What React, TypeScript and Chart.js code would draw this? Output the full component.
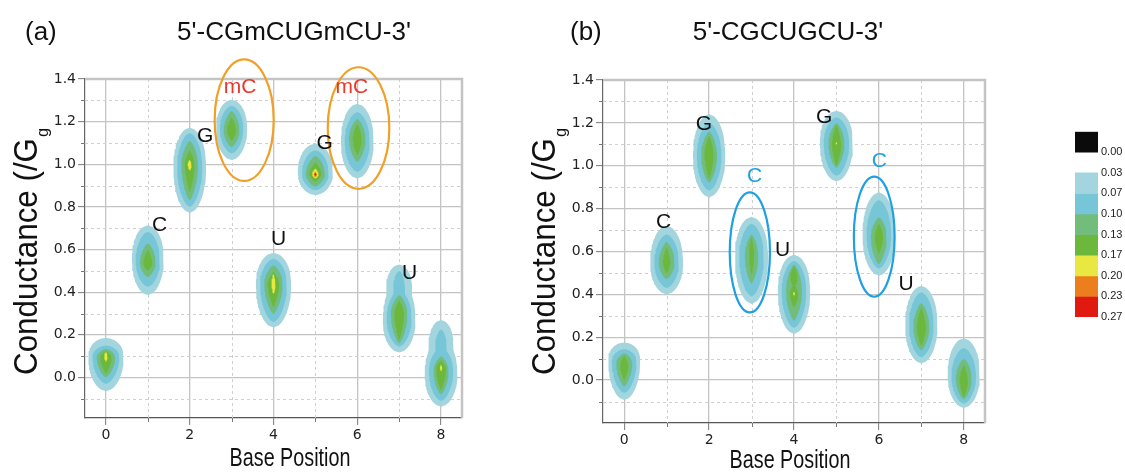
import React, { useEffect, useRef } from 'react';
import { Chart, registerables } from 'chart.js';

Chart.register(...registerables);

const FONT = '"Liberation Sans", Arial, Helvetica, sans-serif';
const TICK_FONT = '"DejaVu Sans", Verdana, sans-serif';

// ---- axes ----
const xTicks = [0, 2, 4, 6, 8];
const xMinorTicks = [1, 3, 5, 7];
const yTicks = [0, 0.2, 0.4, 0.6, 0.8, 1.0, 1.2, 1.4];
const yMinorTicks = [-0.1, 0.1, 0.3, 0.5, 0.7, 0.9, 1.1, 1.3];

// ---- colour scale ----
const levelBounds = [0, 0.0333, 0.0667, 0.1, 0.1333, 0.1667, 0.2, 0.2333, 0.2667];
const levelLabels = ['0.00', '0.03', '0.07', '0.10', '0.13', '0.17', '0.20', '0.23', '0.27'];
const levelColors = ['#a2d5de', '#76c6d7', '#72bd7c', '#6cb83c', '#e9e842', '#ec7e1e', '#e01a10'];
const zeroColor = '#0b0b0b';

// ---- density contours: [base position, level, low, high, half-width, widest-at] ----
const contoursA: number[][] = [
  [0, 1, -0.065, 0.186, 0.42, 0.1], [0, 2, -0.03, 0.15, 0.32, 0.1], [0, 3, 0.0, 0.135, 0.22, 0.095],
  [0, 4, 0.02, 0.125, 0.14, 0.095], [0, 5, 0.075, 0.12, 0.045, 0.1],
  [1, 1, 0.386, 0.714, 0.38, 0.56], [1, 2, 0.425, 0.684, 0.29, 0.55], [1, 3, 0.47, 0.63, 0.19, 0.54],
  [1, 4, 0.5, 0.6, 0.11, 0.535],
  [2, 1, 0.772, 1.172, 0.39, 0.99], [2, 2, 0.8, 1.147, 0.3, 0.99], [2, 3, 0.83, 1.11, 0.2, 1.0],
  [2, 4, 0.87, 1.066, 0.12, 1.0], [2, 5, 0.97, 1.02, 0.05, 1.0],
  [3, 1, 1.02, 1.303, 0.37, 1.17], [3, 2, 1.05, 1.275, 0.28, 1.17], [3, 3, 1.08, 1.25, 0.19, 1.16],
  [3, 4, 1.11, 1.22, 0.11, 1.16],
  [4, 1, 0.234, 0.585, 0.42, 0.44], [4, 2, 0.26, 0.557, 0.32, 0.44], [4, 3, 0.297, 0.527, 0.22, 0.44],
  [4, 4, 0.331, 0.495, 0.14, 0.44], [4, 5, 0.39, 0.487, 0.05, 0.44],
  [5, 1, 0.855, 1.097, 0.42, 0.964], [5, 2, 0.878, 1.066, 0.32, 0.96], [5, 3, 0.895, 1.04, 0.23, 0.955],
  [5, 4, 0.917, 1.01, 0.15, 0.955], [5, 5, 0.933, 0.98, 0.08, 0.953], [5, 6, 0.94, 0.965, 0.04, 0.953],
  [5, 7, 0.946, 0.959, 0.02, 0.952],
  [6, 1, 0.933, 1.284, 0.39, 1.11], [6, 2, 0.964, 1.245, 0.3, 1.11], [6, 3, 1.011, 1.214, 0.2, 1.12],
  [6, 4, 1.042, 1.19, 0.11, 1.12],
  [7, 1, 0.117, 0.45, 0.39, 0.27], [7, 1, 0.28, 0.53, 0.31, 0.42], [7, 2, 0.144, 0.41, 0.3, 0.28],
  [7, 2, 0.3, 0.5, 0.14, 0.42], [7, 3, 0.16, 0.386, 0.2, 0.3], [7, 4, 0.175, 0.362, 0.12, 0.3],
  [8, 1, -0.137, 0.18, 0.39, 0.02], [8, 1, 0.0, 0.27, 0.3, 0.15], [8, 2, -0.11, 0.14, 0.29, 0.03],
  [8, 2, 0.05, 0.225, 0.14, 0.14], [8, 3, -0.08, 0.1, 0.18, 0.03], [8, 4, -0.06, 0.08, 0.12, 0.04],
  [8, 5, 0.03, 0.06, 0.03, 0.045],
];

const contoursB: number[][] = [
  [0, 1, -0.093, 0.176, 0.375, 0.098], [0, 2, -0.06, 0.145, 0.29, 0.09], [0, 3, -0.03, 0.125, 0.19, 0.08],
  [0, 4, 0.0, 0.113, 0.1, 0.07],
  [1, 1, 0.4, 0.72, 0.387, 0.55], [1, 2, 0.43, 0.68, 0.29, 0.55], [1, 3, 0.47, 0.645, 0.19, 0.55],
  [1, 4, 0.5, 0.62, 0.09, 0.55],
  [2, 1, 0.852, 1.241, 0.38, 1.05], [2, 2, 0.883, 1.2, 0.29, 1.05], [2, 3, 0.92, 1.16, 0.19, 1.05],
  [2, 4, 0.94, 1.14, 0.11, 1.054],
  [3, 1, 0.355, 0.762, 0.39, 0.58], [3, 2, 0.39, 0.73, 0.29, 0.58], [3, 3, 0.45, 0.68, 0.16, 0.58],
  [3, 4, 0.487, 0.665, 0.06, 0.6],
  [4, 1, 0.215, 0.585, 0.38, 0.42], [4, 2, 0.243, 0.557, 0.29, 0.42], [4, 3, 0.276, 0.54, 0.19, 0.42],
  [4, 4, 0.43, 0.533, 0.09, 0.48], [4, 4, 0.34, 0.45, 0.1, 0.4], [4, 5, 0.395, 0.412, 0.025, 0.404],
  [5, 1, 0.927, 1.257, 0.39, 1.11], [5, 2, 0.953, 1.226, 0.3, 1.11], [5, 3, 0.99, 1.2, 0.19, 1.105],
  [5, 4, 1.0, 1.19, 0.11, 1.104], [5, 5, 1.098, 1.11, 0.02, 1.104],
  [6, 1, 0.487, 0.876, 0.385, 0.68], [6, 2, 0.52, 0.84, 0.29, 0.68], [6, 3, 0.54, 0.76, 0.19, 0.67],
  [6, 4, 0.588, 0.73, 0.1, 0.67],
  [7, 1, 0.078, 0.44, 0.38, 0.26], [7, 2, 0.106, 0.41, 0.29, 0.26], [7, 3, 0.137, 0.36, 0.19, 0.25],
  [7, 4, 0.16, 0.34, 0.11, 0.246],
  [8, 1, -0.13, 0.195, 0.38, 0.03], [8, 2, -0.11, 0.15, 0.29, 0.02], [8, 3, -0.09, 0.1, 0.19, 0.01],
  [8, 4, -0.08, 0.07, 0.1, 0.0],
];

// ---- base annotations ----
const labelTextA = ['C', 'G', 'mC', 'U', 'G', 'mC', 'U'];
const labelXA = [1.28, 2.37, 3.2, 4.12, 5.22, 5.87, 7.25];
const labelYA = [0.714, 1.13, 1.36, 0.65, 1.1, 1.36, 0.49];
const labelHiA = [false, false, true, false, false, true, false];
const ellipsesA = [[3.3, 1.207, 0.705, 0.285], [6.03, 1.17, 0.735, 0.285]];

const labelTextB = ['C', 'G', 'C', 'U', 'G', 'C', 'U'];
const labelXB = [0.93, 1.88, 3.07, 3.73, 4.71, 6.01, 6.64];
const labelYB = [0.735, 1.195, 0.95, 0.607, 1.225, 1.023, 0.448];
const labelHiB = [false, false, true, false, false, true, false];
const ellipsesB = [[2.96, 0.596, 0.474, 0.28], [5.89, 0.669, 0.48, 0.28]];

// outline shape of a contour of a given level (outer levels rounder, inner ones pointier)
function contourPath(pos: number, level: number, lo: number, hi: number, w: number, m: number) {
  const a = level === 1 ? 2.2 : level === 2 ? 2.0 : level === 3 ? 1.8 : 1.5;
  const b = level === 1 ? 0.55 : level === 2 ? 0.62 : level === 3 ? 0.75 : 0.9;
  const n = 40;
  const right: { x: number; y: number }[] = [];
  const left: { x: number; y: number }[] = [];
  for (let i = 0; i <= n; i++) {
    const s = 1 - (2 * i) / n;
    const y = s >= 0 ? m + s * (hi - m) : m + s * (m - lo);
    const hw = w * Math.pow(Math.max(0, 1 - Math.pow(Math.abs(s), a)), b);
    right.push({ x: pos + hw, y });
    left.push({ x: pos - hw, y });
  }
  return [...right, ...left.reverse().slice(1, -1)];
}

type PanelSpec = {
  left: number; width: number; padRight: number; padTop: number; yWidth: number; xHeight: number;
  yMin: number; contours: number[][];
  labelText: string[]; labelX: number[]; labelY: number[]; labelHi: boolean[]; ellipses: number[][];
  hiColor: string; ellipseColor: string;
  tag: string; title: string; tagX: number; titleX: number; yLabelX: number; xLabelX: number; xLabelY: number;
};

const panelA: PanelSpec = {
  left: 0, width: 515, padRight: 53, padTop: 79, yWidth: 85, xHeight: 55, yMin: -0.19,
  contours: contoursA, labelText: labelTextA, labelX: labelXA, labelY: labelYA, labelHi: labelHiA,
  ellipses: ellipsesA, hiColor: '#e8382c', ellipseColor: '#f0a028',
  tag: '(a)', title: "5'-CGmCUGmCU-3'", tagX: 25, titleX: 294, yLabelX: 25, xLabelX: 290, xLabelY: 459,
};

const panelB: PanelSpec = {
  left: 515, width: 525, padRight: 55, padTop: 80, yWidth: 88, xHeight: 50, yMin: -0.2,
  contours: contoursB, labelText: labelTextB, labelX: labelXB, labelY: labelYB, labelHi: labelHiB,
  ellipses: ellipsesB, hiColor: '#1ea0e2', ellipseColor: '#1ea0e2',
  tag: '(b)', title: "5'-CGCUGCU-3'", tagX: 55, titleX: 273, yLabelX: 28, xLabelX: 275, xLabelY: 461,
};

function decorPlugin(p: PanelSpec) {
  return {
    id: 'decor',
    beforeDatasetsDraw(chart: any) {
      const { ctx, chartArea: a } = chart;
      const x = chart.scales.x;
      const y = chart.scales.y;
      ctx.save();
      ctx.lineWidth = 1;
      ctx.strokeStyle = '#d0d0d0';
      ctx.setLineDash([3, 3]);
      ctx.beginPath();
      xMinorTicks.forEach((v) => {
        const px = Math.round(x.getPixelForValue(v)) + 0.5;
        ctx.moveTo(px, a.top);
        ctx.lineTo(px, a.bottom);
      });
      yMinorTicks.forEach((v) => {
        const py = Math.round(y.getPixelForValue(v)) + 0.5;
        ctx.moveTo(a.left, py);
        ctx.lineTo(a.right, py);
      });
      ctx.stroke();
      ctx.setLineDash([]);
      ctx.strokeStyle = '#777';
      ctx.beginPath();
      xMinorTicks.forEach((v) => {
        const px = Math.round(x.getPixelForValue(v)) + 0.5;
        ctx.moveTo(px, a.bottom);
        ctx.lineTo(px, a.bottom + 4);
      });
      yMinorTicks.forEach((v) => {
        const py = Math.round(y.getPixelForValue(v)) + 0.5;
        ctx.moveTo(a.left - 4, py);
        ctx.lineTo(a.left, py);
      });
      ctx.stroke();
      ctx.strokeStyle = '#c4c4c4';
      ctx.lineWidth = 2.5;
      ctx.beginPath();
      ctx.moveTo(a.left, a.top);
      ctx.lineTo(a.right, a.top);
      ctx.lineTo(a.right, a.bottom);
      ctx.stroke();
      ctx.restore();
    },
    afterDatasetsDraw(chart: any) {
      const { ctx } = chart;
      const x = chart.scales.x;
      const y = chart.scales.y;
      ctx.save();
      ctx.strokeStyle = p.ellipseColor;
      ctx.lineWidth = 2.2;
      p.ellipses.forEach(([cx, cy, rx, ry]) => {
        const px = x.getPixelForValue(cx);
        const py = y.getPixelForValue(cy);
        const prx = Math.abs(x.getPixelForValue(cx + rx) - px);
        const pry = Math.abs(y.getPixelForValue(cy + ry) - py);
        ctx.beginPath();
        ctx.ellipse(px, py, prx, pry, 0, 0, Math.PI * 2);
        ctx.stroke();
      });
      ctx.font = `21px ${FONT}`;
      ctx.textAlign = 'center';
      ctx.textBaseline = 'middle';
      p.labelText.forEach((t, i) => {
        ctx.fillStyle = p.labelHi[i] ? p.hiColor : '#111';
        ctx.fillText(t, x.getPixelForValue(p.labelX[i]), y.getPixelForValue(p.labelY[i]));
      });
      ctx.restore();
    },
    afterDraw(chart: any) {
      const { ctx } = chart;
      ctx.save();
      ctx.fillStyle = '#111';
      ctx.textBaseline = 'middle';
      ctx.font = `26px ${FONT}`;
      ctx.textAlign = 'left';
      ctx.fillText(p.tag, p.tagX, 33);
      ctx.textAlign = 'center';
      ctx.fillText(p.title, p.titleX, 33);

      // x axis title (condensed)
      ctx.save();
      ctx.translate(p.xLabelX, p.xLabelY);
      ctx.scale(0.76, 1);
      ctx.font = `26px ${FONT}`;
      ctx.textAlign = 'center';
      ctx.fillText('Base Position', 0, 0);
      ctx.restore();

      // y axis title with subscript
      ctx.save();
      ctx.translate(p.yLabelX, 252);
      ctx.rotate(-Math.PI / 2);
      ctx.scale(0.95, 1);
      const main = 'Conductance (/G';
      ctx.font = `33px ${FONT}`;
      const wMain = ctx.measureText(main).width;
      ctx.font = `17px ${FONT}`;
      const wSub = ctx.measureText('g').width;
      const total = wMain + wSub;
      ctx.textAlign = 'left';
      ctx.textBaseline = 'alphabetic';
      ctx.font = `33px ${FONT}`;
      ctx.fillText(main, -total / 2, 12);
      ctx.font = `17px ${FONT}`;
      ctx.fillText('g', -total / 2 + wMain + 1, 23);
      ctx.restore();
      ctx.restore();
    },
  };
}

function makePanelConfig(p: PanelSpec): any {
  const datasets = p.contours.map(([pos, level, lo, hi, w, m]) => ({
    data: contourPath(pos, level, lo, hi, w, m),
    showLine: true,
    fill: 'shape',
    backgroundColor: levelColors[level - 1],
    borderColor: 'rgba(0,0,0,0)',
    borderWidth: 0,
    pointRadius: 0,
    pointHoverRadius: 0,
    order: 10 - level,
  }));
  const tickFont = { family: TICK_FONT, size: 14 };
  return {
    type: 'scatter',
    data: { datasets },
    options: {
      animation: false,
      responsive: false,
      events: [],
      plugins: { legend: { display: false }, tooltip: { enabled: false }, title: { display: false } },
      layout: { padding: { left: 0, right: p.padRight, top: p.padTop, bottom: 0 } },
      scales: {
        x: {
          type: 'linear',
          min: -0.5,
          max: 8.5,
          afterBuildTicks: (s: any) => { s.ticks = xTicks.map((v) => ({ value: v })); },
          afterFit: (s: any) => { s.height = p.xHeight; },
          ticks: { callback: (v: any) => String(v), font: tickFont, color: '#222', padding: 2, maxRotation: 0, autoSkip: false },
          grid: { color: '#c4c4c4', lineWidth: 1.3, tickLength: 7, tickColor: '#777', tickWidth: 1 },
          border: { color: '#555', width: 1.2 },
        },
        y: {
          type: 'linear',
          min: p.yMin,
          max: 1.4,
          afterBuildTicks: (s: any) => { s.ticks = yTicks.map((v) => ({ value: v })); },
          afterFit: (s: any) => { s.width = p.yWidth; },
          ticks: { callback: (v: any) => Number(v).toFixed(1), font: tickFont, color: '#222', padding: 2, autoSkip: false },
          grid: { color: '#c4c4c4', lineWidth: 1.3, tickLength: 7, tickColor: '#777', tickWidth: 1 },
          border: { color: '#666', width: 1.2 },
        },
      },
    },
    plugins: [decorPlugin(p)],
  };
}

function Panel({ p }: { p: PanelSpec }) {
  const ref = useRef<HTMLCanvasElement>(null);
  useEffect(() => {
    const chart = new Chart(ref.current as HTMLCanvasElement, makePanelConfig(p));
    return () => chart.destroy();
  }, []);
  return (
    <canvas
      ref={ref}
      width={p.width}
      height={473}
      style={{ position: 'absolute', left: p.left, top: 0, width: p.width, height: 473 }}
    />
  );
}

function ColorBar() {
  const ref = useRef<HTMLCanvasElement>(null);
  useEffect(() => {
    const datasets = [
      { data: [[-levelBounds[1], levelBounds[0]]], backgroundColor: zeroColor },
      ...levelColors.map((c, i) => ({ data: [[levelBounds[i + 1], levelBounds[i + 2]]], backgroundColor: c })),
    ];
    const chart = new Chart(ref.current as HTMLCanvasElement, {
      type: 'bar',
      data: { labels: [''], datasets: datasets as any },
      options: {
        animation: false,
        responsive: false,
        events: [],
        plugins: { legend: { display: false }, tooltip: { enabled: false } },
        layout: { padding: { left: 35, right: 0, top: 21.7, bottom: 23 } },
        datasets: { bar: { grouped: false, barPercentage: 1, categoryPercentage: 1, borderWidth: 0 } },
        scales: {
          x: { display: false },
          y: {
            position: 'right',
            reverse: true,
            min: -levelBounds[1],
            max: levelBounds[8],
            afterBuildTicks: (s: any) => { s.ticks = levelBounds.map((v) => ({ value: v })); },
            afterFit: (s: any) => { s.width = 27; },
            ticks: { callback: (_v: any, i: number) => levelLabels[i], padding: 3, font: { family: FONT, size: 11 }, color: '#222', autoSkip: false },
            grid: { display: false, drawTicks: false },
            border: { display: false },
          },
        },
      } as any,
    });
    return () => chart.destroy();
  }, []);
  return (
    <canvas
      ref={ref}
      width={85}
      height={230}
      style={{ position: 'absolute', left: 1040, top: 110, width: 85, height: 230 }}
    />
  );
}

export default function App() {
  return (
    <div style={{ position: 'absolute', left: 0, top: 0, width: 1125, height: 473, background: '#fff', overflow: 'hidden' }}>
      <Panel p={panelA} />
      <Panel p={panelB} />
      <ColorBar />
    </div>
  );
}
